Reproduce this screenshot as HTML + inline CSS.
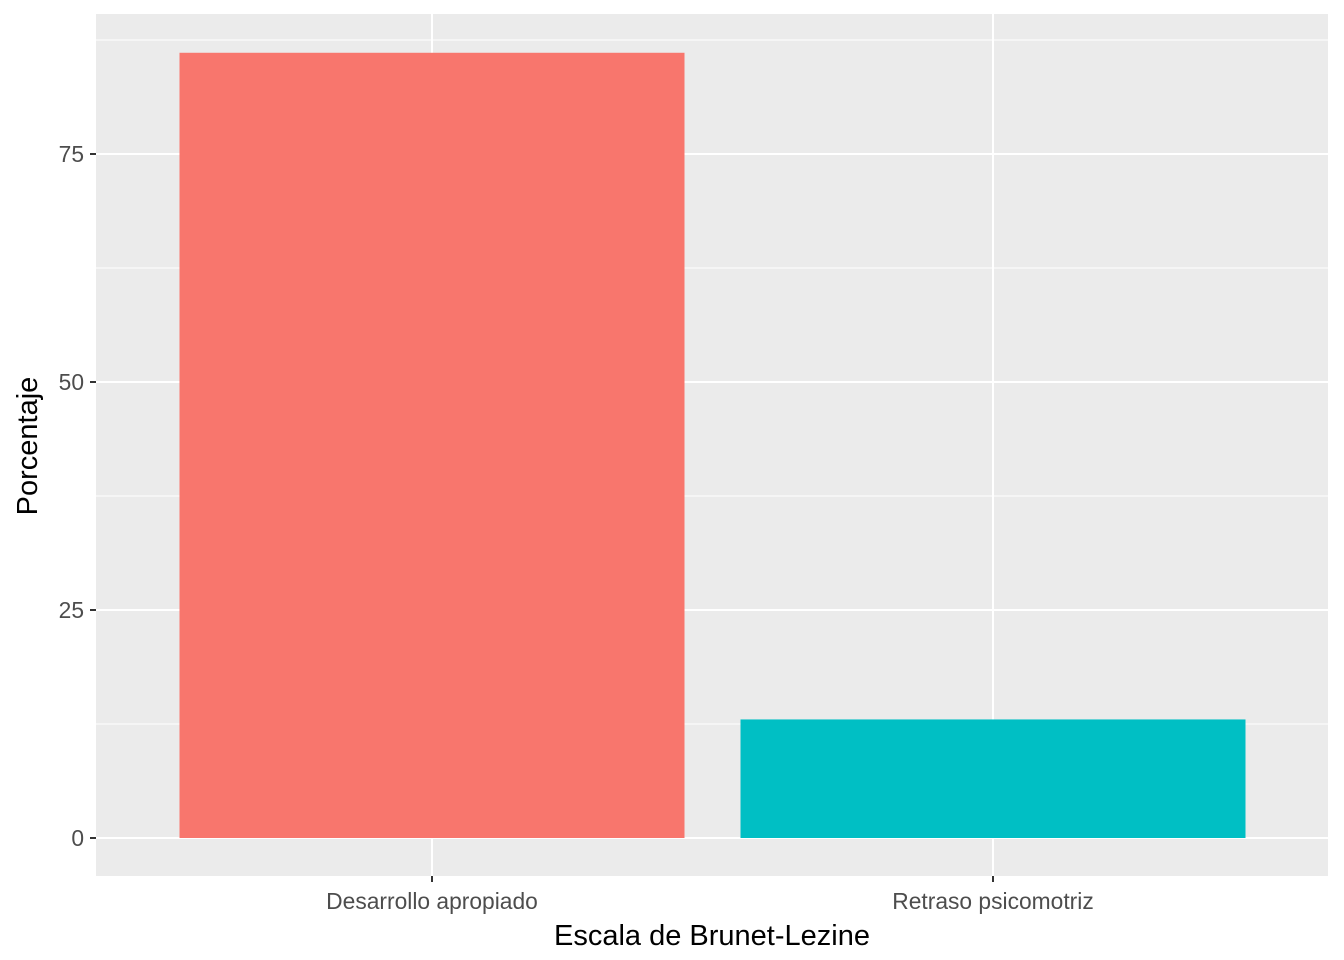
<!DOCTYPE html>
<html><head><meta charset="utf-8"><style>
html,body{margin:0;padding:0;background:#fff;}
svg{display:block;font-family:"Liberation Sans",Arial,sans-serif;}
</style></head><body>
<svg id="chart" width="1344" height="960">
<rect x="96" y="14" width="1232" height="862" fill="#ebebeb"/>
<g id="grid"></g><g id="bars"></g><g id="axes"></g>
<text x="712" y="945" text-anchor="middle" font-size="29" fill="#000">Escala de Brunet-Lezine</text>
<text transform="translate(37,446) rotate(-90)" text-anchor="middle" font-size="29" fill="#000">Porcentaje</text>
</svg>
<script>
const categories = ["Desarrollo apropiado", "Retraso psicomotriz"];
const values = [86.1, 13.0];
const yTicks = [0, 25, 50, 75];
const yMinor = [12.5, 37.5, 62.5, 87.5];
const colors = ["#f8766d", "#00bfc4"];
const NS = "http://www.w3.org/2000/svg";
const y = v => 838 - v * 9.12;
const x = i => 432 + i * 561;
const bw = 505;
function mk(tag, attrs, parent){const e=document.createElementNS(NS,tag);for(const k in attrs)e.setAttribute(k,attrs[k]);parent.appendChild(e);return e;}
const grid=document.getElementById('grid'), bars=document.getElementById('bars'), axes=document.getElementById('axes');
yMinor.forEach(v=>{const l=mk('line',{x1:96,x2:1328,y1:y(v),y2:y(v),stroke:'#fff','stroke-width':1},grid);

});
yTicks.forEach(v=>{const l=mk('line',{x1:96,x2:1328,y1:y(v),y2:y(v),stroke:'#fff','stroke-width':2},grid);


const t=mk('line',{x1:90,x2:96,y1:y(v),y2:y(v),stroke:'#333','stroke-width':2},axes);


const tx=mk('text',{x:84,y:y(v)+8,'text-anchor':'end','font-size':22.8,fill:'#4d4d4d'},axes);tx.textContent=v;

});
categories.forEach((c,i)=>{const l=mk('line',{x1:x(i),x2:x(i),y1:14,y2:876,stroke:'#fff','stroke-width':2},grid);


const b=mk('rect',{x:x(i)-bw/2,y:y(values[i]),width:bw,height:y(0)-y(values[i]),fill:colors[i]},bars);


const t=mk('line',{x1:x(i),x2:x(i),y1:876,y2:882,stroke:'#333','stroke-width':2},axes);


const tx=mk('text',{x:x(i),y:909,'text-anchor':'middle','font-size':22.8,fill:'#4d4d4d'},axes);tx.textContent=c;

});
</script>
</body></html>
